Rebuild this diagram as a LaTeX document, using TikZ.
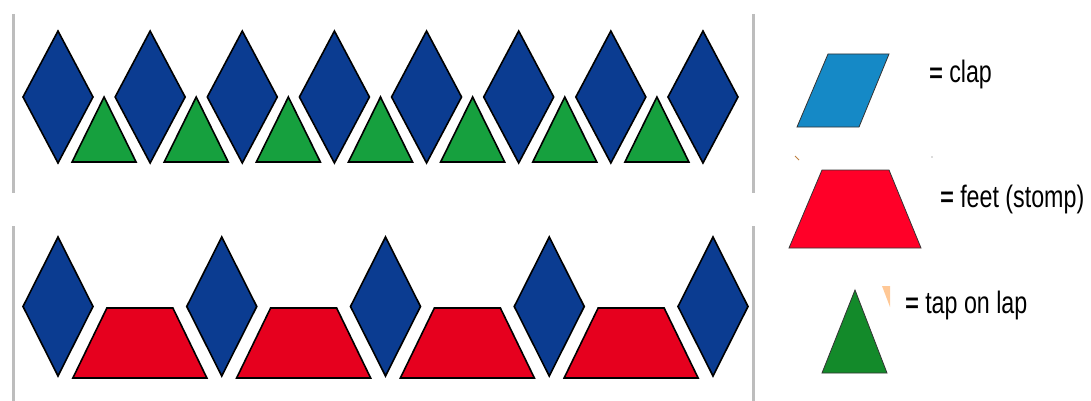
\documentclass[tikz,border=0pt]{standalone}
\usepackage{fontspec}
\setmainfont{Liberation Sans}
\newfontfamily\narrowfont[FakeStretch=0.75]{Liberation Sans}
\newfontfamily\narrowbold[FakeStretch=0.75,FakeBold=1.5]{Liberation Sans}
\definecolor{dblue}{HTML}{0B3C91}
\definecolor{tgreen}{HTML}{16A03E}
\definecolor{tred}{HTML}{E6001E}
\definecolor{lblue}{HTML}{1589C6}
\definecolor{lred}{HTML}{FF0028}
\definecolor{lgreen}{HTML}{138A2A}
\definecolor{rule}{HTML}{BDBDBD}
\definecolor{peach}{HTML}{FFC896}
\tikzset{
  diam/.style={fill=dblue,draw=black,line width=1.6pt},
  tri/.style={fill=tgreen,draw=black,line width=1.6pt},
  trap/.style={fill=tred,draw=black,line width=1.6pt},
  frameline/.style={draw=rule,line width=3pt},
  legshape/.style={draw=black!80,line width=0.8pt},
  legtext/.style={anchor=base west,inner sep=0pt,font=\narrowfont\fontsize{31}{33}\selectfont}
}
\begin{document}
\begin{tikzpicture}[x=1pt,y=-1pt]
\useasboundingbox (0,0) rectangle (1091,401);
% panel rules
\draw[frameline] (13,14) -- (13,193);
\draw[frameline] (753,14) -- (753,193);
\draw[frameline] (13,226) -- (13,401);
\draw[frameline] (753,226) -- (753,401);
% top row
\foreach \i in {0,...,7}{
  \pgfmathsetmacro{\cx}{58+92.14*\i}
  \draw[diam] (\cx,31) -- (\cx+35,97) -- (\cx,163) -- (\cx-35,97) -- cycle;
}
\foreach \i in {0,...,6}{
  \pgfmathsetmacro{\cx}{58+92.14*\i+46.07}
  \draw[tri] (\cx,97) -- (\cx+32,162) -- (\cx-32,162) -- cycle;
}
% bottom row
\foreach \i in {0,...,4}{
  \pgfmathsetmacro{\cx}{58+163.75*\i}
  \draw[diam] (\cx,237) -- (\cx+35,306.5) -- (\cx,376) -- (\cx-35,306.5) -- cycle;
}
\foreach \i in {0,...,3}{
  \pgfmathsetmacro{\cx}{58+163.75*\i+81.875}
  \draw[trap] (\cx-33,308) -- (\cx+33,308) -- (\cx+67,378) -- (\cx-67,378) -- cycle;
}
% legend
\fill[lblue] (828,54) -- (889,54) -- (859,127) -- (797,127) -- cycle;
\draw[legshape] (828,54) -- (889,54) -- (859,127) -- (797,127) -- cycle;
\node[legtext] (clap) at (929,83) {{\narrowbold =} clap};
\draw[brown,line width=1pt] (795,156) -- (799,160);
\fill[black!60] (932,157) circle (0.6);
\fill[lred] (822,170) -- (889,170) -- (921,248) -- (789,248) -- cycle;
\draw[legshape] (822,170) -- (889,170) -- (921,248) -- (789,248) -- cycle;
\node[legtext] (feet) at (940,207) {{\narrowbold =} feet (stomp)};
\fill[peach] (882,286) -- (890,286) -- (890,307) -- cycle;
\fill[lgreen] (855,290) -- (887,373) -- (822,373) -- cycle;
\draw[legshape] (855,290) -- (887,373) -- (822,373) -- cycle;
\node[legtext] (lap) at (905,313) {{\narrowbold =} tap on lap};
\end{tikzpicture}
\end{document}
